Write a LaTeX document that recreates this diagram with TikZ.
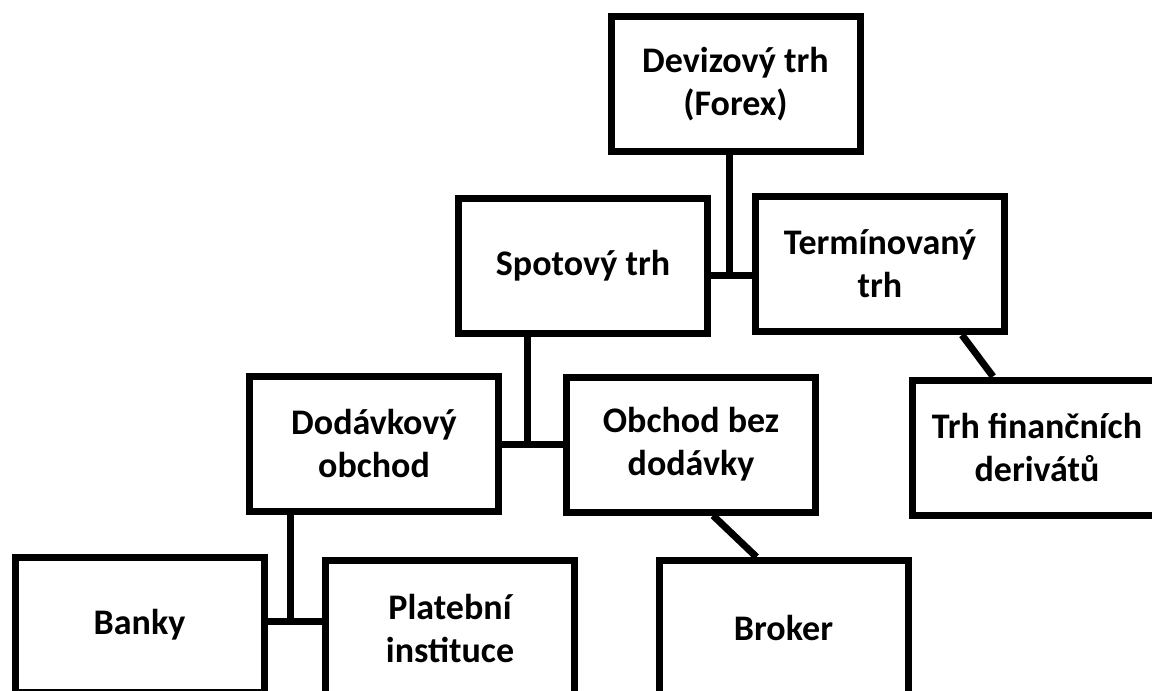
\documentclass[tikz,border=0pt]{standalone}
\usepackage{fontspec}
\setmainfont{Carlito}
\usepackage{tikz}
\usetikzlibrary{calc}

\begin{document}
\begin{tikzpicture}[x=1pt,y=-1pt,
        box/.style={draw,rectangle,line width=7pt,minimum width=249pt,minimum height=135pt,
            inner sep=0pt,align=center,font=\fontsize{36}{43}\selectfont\bfseries},
        link/.style={line width=7pt}]
        \useasboundingbox (0,0) rectangle (1152,691);
        \fill[white] (0,0) rectangle (1152,691);
        \clip (0,0) rectangle (1152,691);
        % Define the nodes
        \node[box] (forex)  at (735.5,84)   {Devizový trh\\(Forex)};
        \node[box] (spot)   at (583,265.5)  {Spotový trh};
        \node[box] (termin) at (880,264)    {Termínovaný\\trh};
        \node[box] (dodav)  at (374,443.5)  {Dodávkový\\obchod};
        \node[box] (bezdod) at (691,444.5)  {Obchod bez\\dodávky};
        \node[box] (deriv)  at (1037,447.5) {Trh finančních\\derivátů};
        \node[box] (banky)  at (139.5,625)  {Banky};
        \node[box] (plat)   at (450,628)    {Platební\\instituce};
        \node[box] (broker) at (783.5,628)  {Broker};
        % Junctions
        \coordinate (j1) at (729,275);
        \coordinate (j2) at (527,444);
        \coordinate (j3) at (290.5,621);
        % Connect the nodes
        \draw[link] (j1 |- forex.south) -- (j1);
        \draw[link] (spot.east |- j1) -- (termin.west |- j1);
        \draw[link] (j2 |- spot.south) -- (j2);
        \draw[link] (dodav.east |- j2) -- (bezdod.west |- j2);
        \draw[link] (j3 |- dodav.south) -- (j3);
        \draw[link] (banky.east |- j3) -- (plat.west |- j3);
        \draw[link] ([xshift=210pt]termin.south west) -- ([xshift=84pt]deriv.north west);
        \draw[link] ([xshift=150pt]bezdod.south west) -- ([xshift=101pt]broker.north west);
    \end{tikzpicture}
\end{document}
